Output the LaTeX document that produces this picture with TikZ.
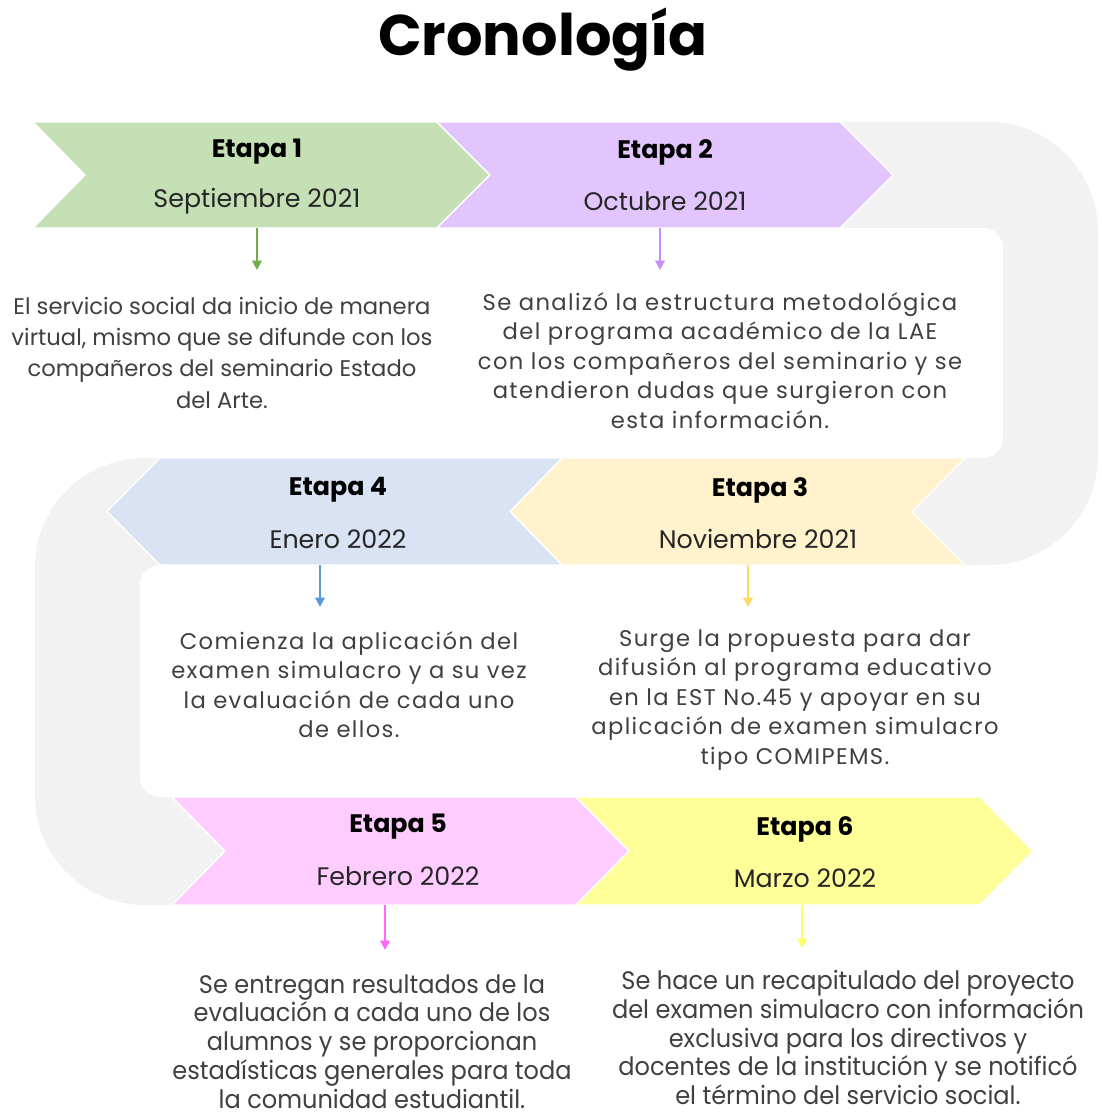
\documentclass[tikz,border=0pt]{standalone}
\usepackage{fontspec}
\setmainfont{Poppins}
\newfontfamily\ancha{Poppins}[LetterSpace=6]
\newfontfamily\angosta{Poppins}[FakeStretch=0.95]
\usetikzlibrary{arrows.meta, positioning}
\definecolor{fondo}{HTML}{F2F2F2}
\definecolor{verde}{HTML}{C5E0B4}
\definecolor{lila}{HTML}{E1C5FC}
\definecolor{crema}{HTML}{FFF2CC}
\definecolor{azul}{HTML}{DAE3F3}
\definecolor{rosa}{HTML}{FFCCFF}
\definecolor{amarillo}{HTML}{FFFF99}
\definecolor{texto}{HTML}{404040}

\begin{document}
\begin{tikzpicture}[x=0.75pt, y=-0.75pt,
	etapa/.style={font=\fontsize{19}{22}\selectfont\bfseries, text=black},
	fecha/.style={font=\fontsize{19}{22}\selectfont, text=black!85},
	desc/.style={font=\ancha\fontsize{17}{22.2}\selectfont, text=texto, align=center, anchor=north, inner sep=0pt},
	pieza/.style={draw=white, line width=1pt},
	flecha/.style={line width=1.5pt, -{Triangle[width=7pt,length=7pt]}}]
	\useasboundingbox (0,0) rectangle (1101,1117);
	
	\node[font=\fontsize{43}{50}\selectfont\bfseries] (titulo) at (543,40) {Cronología};
	
	%Banda gris
	\fill[fondo, rounded corners=82pt] (700,122) rectangle (1098,565);
	\fill[fondo] (440,122) rectangle (900,565);
	\fill[white, rounded corners=15pt] (0,228) rectangle (1003,458);
	\fill[fondo, rounded corners=82pt] (35,458) rectangle (400,905);
	\fill[fondo] (200,458) rectangle (600,905);
	\fill[white, rounded corners=15pt] (140,565) rectangle (1101,797);
	
	%Piezas
	\filldraw[pieza, fill=verde] (33,122) -- (437,122) -- (490,175) -- (437,228) -- (33,228) -- (85,175) -- cycle;
	\filldraw[pieza, fill=lila] (437,122) -- (840,122) -- (893,175) -- (840,228) -- (437,228) -- (490,175) -- cycle;
	\filldraw[pieza, fill=crema] (965,458) -- (562,458) -- (510,511.5) -- (562,565) -- (965,565) -- (912,511.5) -- cycle;
	\filldraw[pieza, fill=azul] (562,458) -- (160,458) -- (107,511.5) -- (160,565) -- (562,565) -- (510,511.5) -- cycle;
	\filldraw[pieza, fill=rosa] (172,797) -- (576,797) -- (629,851) -- (576,905) -- (172,905) -- (225,851) -- cycle;
	\filldraw[pieza, fill=amarillo] (576,797) -- (980,797) -- (1033,851) -- (980,905) -- (576,905) -- (629,851) -- cycle;
	
	\node[etapa] (e1) at (257,152) {Etapa 1};
	\node[fecha] (f1) at (257,201) {Septiembre 2021};
	\node[etapa] (e2) at (665,152) {Etapa 2};
	\node[fecha] (f2) at (665,201) {Octubre 2021};
	\node[etapa] (e3) at (760,490) {Etapa 3};
	\node[fecha] (f3) at (758,539) {Noviembre 2021};
	\node[etapa] (e4) at (338,490) {Etapa 4};
	\node[fecha] (f4) at (338,539) {Enero 2022};
	\node[etapa] (e5) at (398,827) {Etapa 5};
	\node[fecha] (f5) at (398,876) {Febrero 2022};
	\node[etapa] (e6) at (805,829) {Etapa 6};
	\node[fecha] (f6) at (805,878) {Marzo 2022};
	
	%Descripciones
	\node[desc, font=\fontsize{17}{23.4}\selectfont] (d1) at (222,297) {El servicio social da inicio de manera\\virtual, mismo que se difunde con los\\compañeros del seminario Estado\\del Arte.};
	\node[desc] (d2) at (720,292) {Se analizó la estructura metodológica\\del programa académico de la LAE\\con los compañeros del seminario y se\\atendieron dudas que surgieron con\\esta información.};
	\node[desc] (d3) at (795,629) {Surge la propuesta para dar\\difusión al programa educativo\\en la EST No.45 y apoyar en su\\aplicación de examen simulacro\\tipo COMIPEMS.};
	\node[desc] (d4) at (349,631) {Comienza la aplicación del\\examen simulacro y a su vez\\la evaluación de cada uno\\de ellos.};
	\node[desc, font=\angosta\fontsize{19}{21.6}\selectfont] (d5) at (372,974) {Se entregan resultados de la\\evaluación a cada uno de los\\alumnos y se proporcionan\\estadísticas generales para toda\\la comunidad estudiantil.};
	\node[desc, font=\angosta\fontsize{19}{21.6}\selectfont] (d6) at (848,970) {Se hace un recapitulado del proyecto\\del examen simulacro con información\\exclusiva para los directivos y\\docentes de la institución y se notificó\\el término del servicio social.};
	
	%Flechas
	\coordinate (a1) at (257,228); \coordinate (b1) at (257,270);
	\coordinate (a2) at (660,228); \coordinate (b2) at (660,270);
	\coordinate (a3) at (748,565); \coordinate (b3) at (748,607);
	\coordinate (a4) at (320,565); \coordinate (b4) at (320,607);
	\coordinate (a5) at (385,905); \coordinate (b5) at (385,950);
	\coordinate (a6) at (802,905); \coordinate (b6) at (802,948);
	\draw[flecha, color={rgb,255:red,112;green,173;blue,71}] (a1) -- (b1);
	\draw[flecha, color={rgb,255:red,200;green,141;blue,251}] (a2) -- (b2);
	\draw[flecha, color={rgb,255:red,255;green,217;blue,102}] (a3) -- (b3);
	\draw[flecha, color={rgb,255:red,91;green,155;blue,213}] (a4) -- (b4);
	\draw[flecha, color={rgb,255:red,255;green,102;blue,255}] (a5) -- (b5);
	\draw[flecha, color={rgb,255:red,255;green,255;blue,102}] (a6) -- (b6);
	
\end{tikzpicture}
\end{document}
